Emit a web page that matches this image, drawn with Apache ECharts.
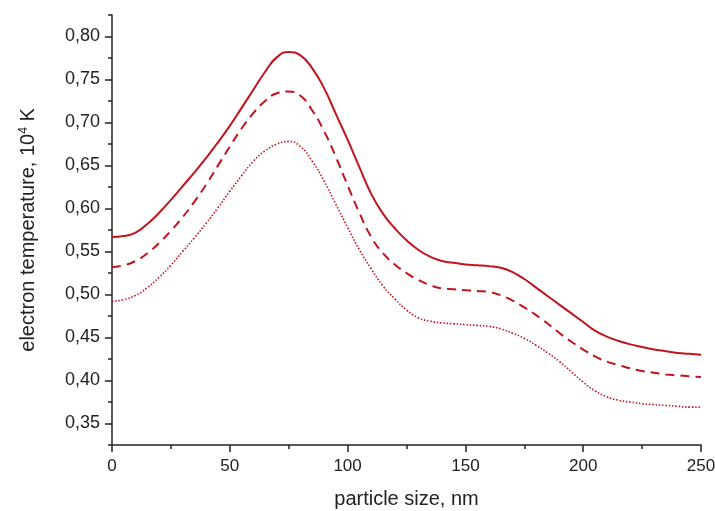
<!DOCTYPE html>
<html>
<head>
<meta charset="utf-8">
<script src="https://cdn.jsdelivr.net/npm/echarts@6/dist/echarts.min.js"></script>
<style>
  html, body { margin: 0; padding: 0; background: #fff; }
  #chart { width: 715px; height: 511px; }
</style>
</head>
<body>
<div id="chart"></div>
<script>
// particle size, nm
const sizes = [0, 5, 10, 15, 20, 25, 30, 35, 40, 45, 50, 55, 60, 65, 70, 75, 80, 85, 90, 95, 100,
  105, 110, 115, 120, 125, 130, 135, 140, 145, 150, 155, 160, 165, 170, 175, 180, 185, 190, 195, 200,
  205, 210, 215, 220, 225, 230, 235, 240, 245, 250];
// electron temperature, 10^4 K
const solidVals = [0.567, 0.568, 0.572, 0.582, 0.595, 0.610, 0.626, 0.642, 0.659, 0.677, 0.696, 0.717, 0.738, 0.759, 0.776, 0.782, 0.778, 0.763, 0.740, 0.710, 0.680,
  0.648, 0.617, 0.594, 0.577, 0.563, 0.552, 0.544, 0.539, 0.537, 0.535, 0.534, 0.533, 0.531, 0.526, 0.518, 0.508, 0.498, 0.488, 0.478, 0.468,
  0.458, 0.451, 0.446, 0.442, 0.439, 0.436, 0.434, 0.432, 0.431, 0.430];
const dashedVals = [0.532, 0.534, 0.539, 0.548, 0.560, 0.574, 0.590, 0.608, 0.628, 0.650, 0.672, 0.693, 0.711, 0.725, 0.734, 0.736, 0.731, 0.714, 0.690, 0.660, 0.627,
  0.595, 0.567, 0.548, 0.535, 0.525, 0.517, 0.511, 0.507, 0.506, 0.505, 0.504, 0.503, 0.499, 0.493, 0.485, 0.476, 0.466, 0.455, 0.445, 0.436,
  0.428, 0.422, 0.418, 0.414, 0.411, 0.409, 0.407, 0.406, 0.405, 0.404];
const dottedVals = [0.492, 0.494, 0.499, 0.508, 0.520, 0.534, 0.550, 0.566, 0.583, 0.601, 0.620, 0.638, 0.655, 0.667, 0.675, 0.678, 0.672, 0.655, 0.632, 0.605, 0.578,
  0.552, 0.530, 0.510, 0.495, 0.482, 0.473, 0.469, 0.467, 0.466, 0.465, 0.464, 0.463, 0.460, 0.455, 0.449, 0.441, 0.432, 0.422, 0.410, 0.398,
  0.388, 0.381, 0.377, 0.375, 0.373, 0.372, 0.371, 0.370, 0.369, 0.369];
const yMajor = [0.35, 0.40, 0.45, 0.50, 0.55, 0.60, 0.65, 0.70, 0.75, 0.80];
const yMinor = [0.325, 0.375, 0.425, 0.475, 0.525, 0.575, 0.625, 0.675, 0.725, 0.775, 0.825];

const RED = "#c0141c";
const FONT = "Liberation Sans, Arial, sans-serif";
const INK = "#222";

const pairs = (vals) => sizes.map((x, i) => [x, vals[i]]);

const chart = echarts.init(document.getElementById("chart"));

const axisLineStyle = { color: INK, width: 1.5 };

chart.setOption({
  animation: false,
  backgroundColor: "#fff",
  // outerBoundsMode none: keep the plot box fixed, let "250" sit at the edge
  grid: { left: 112, right: 14, top: 15, bottom: 66, containLabel: false, outerBoundsMode: "none" },
  xAxis: {
    type: "value",
    min: 0,
    max: 250,
    interval: 50,
    name: "particle size, nm",
    nameLocation: "middle",
    nameGap: 44,
    nameTextStyle: { fontFamily: FONT, fontSize: 20, color: INK },
    axisLine: { show: true, lineStyle: axisLineStyle },
    axisTick: { show: true, length: 7, lineStyle: axisLineStyle },
    minorTick: { show: true, splitNumber: 2, length: 4, lineStyle: axisLineStyle },
    axisLabel: { fontFamily: FONT, fontSize: 17, color: INK, margin: 13 },
    splitLine: { show: false },
    minorSplitLine: { show: false }
  },
  yAxis: [
    {
      type: "value",
      min: 0.325,
      max: 0.825,
      name: "electron temperature, 10{sup|4} K",
      nameLocation: "middle",
      nameRotate: 90,
      nameGap: 73,
      nameTextStyle: {
        fontFamily: FONT, fontSize: 20, color: INK,
        rich: { sup: { fontFamily: FONT, fontSize: 12, color: INK, verticalAlign: "top", padding: [0, 0, 9, 0] } }
      },
      axisLine: { show: true, lineStyle: axisLineStyle },
      axisTick: { show: true, length: 7, customValues: yMajor, lineStyle: axisLineStyle },
      axisLabel: {
        fontFamily: FONT, fontSize: 18, color: INK, margin: 12,
        customValues: yMajor,
        formatter: (v) => v.toFixed(2).replace(".", ",")
      },
      splitLine: { show: false }
    },
    {
      type: "value",
      min: 0.325,
      max: 0.825,
      position: "left",
      axisLine: { show: false },
      axisTick: { show: true, length: 4, customValues: yMinor, lineStyle: axisLineStyle },
      axisLabel: { show: false },
      splitLine: { show: false }
    }
  ],
  series: [
    {
      type: "line", data: pairs(solidVals), smooth: 0.5, showSymbol: false,
      lineStyle: { color: RED, width: 2 }
    },
    {
      type: "line", data: pairs(dashedVals), smooth: 0.5, showSymbol: false,
      lineStyle: { color: RED, width: 2, type: [9, 6] }
    },
    {
      type: "line", data: pairs(dottedVals), smooth: 0.5, showSymbol: false,
      lineStyle: { color: RED, width: 1.6, type: [1.5, 1.8] }
    }
  ]
});
</script>
</body>
</html>
